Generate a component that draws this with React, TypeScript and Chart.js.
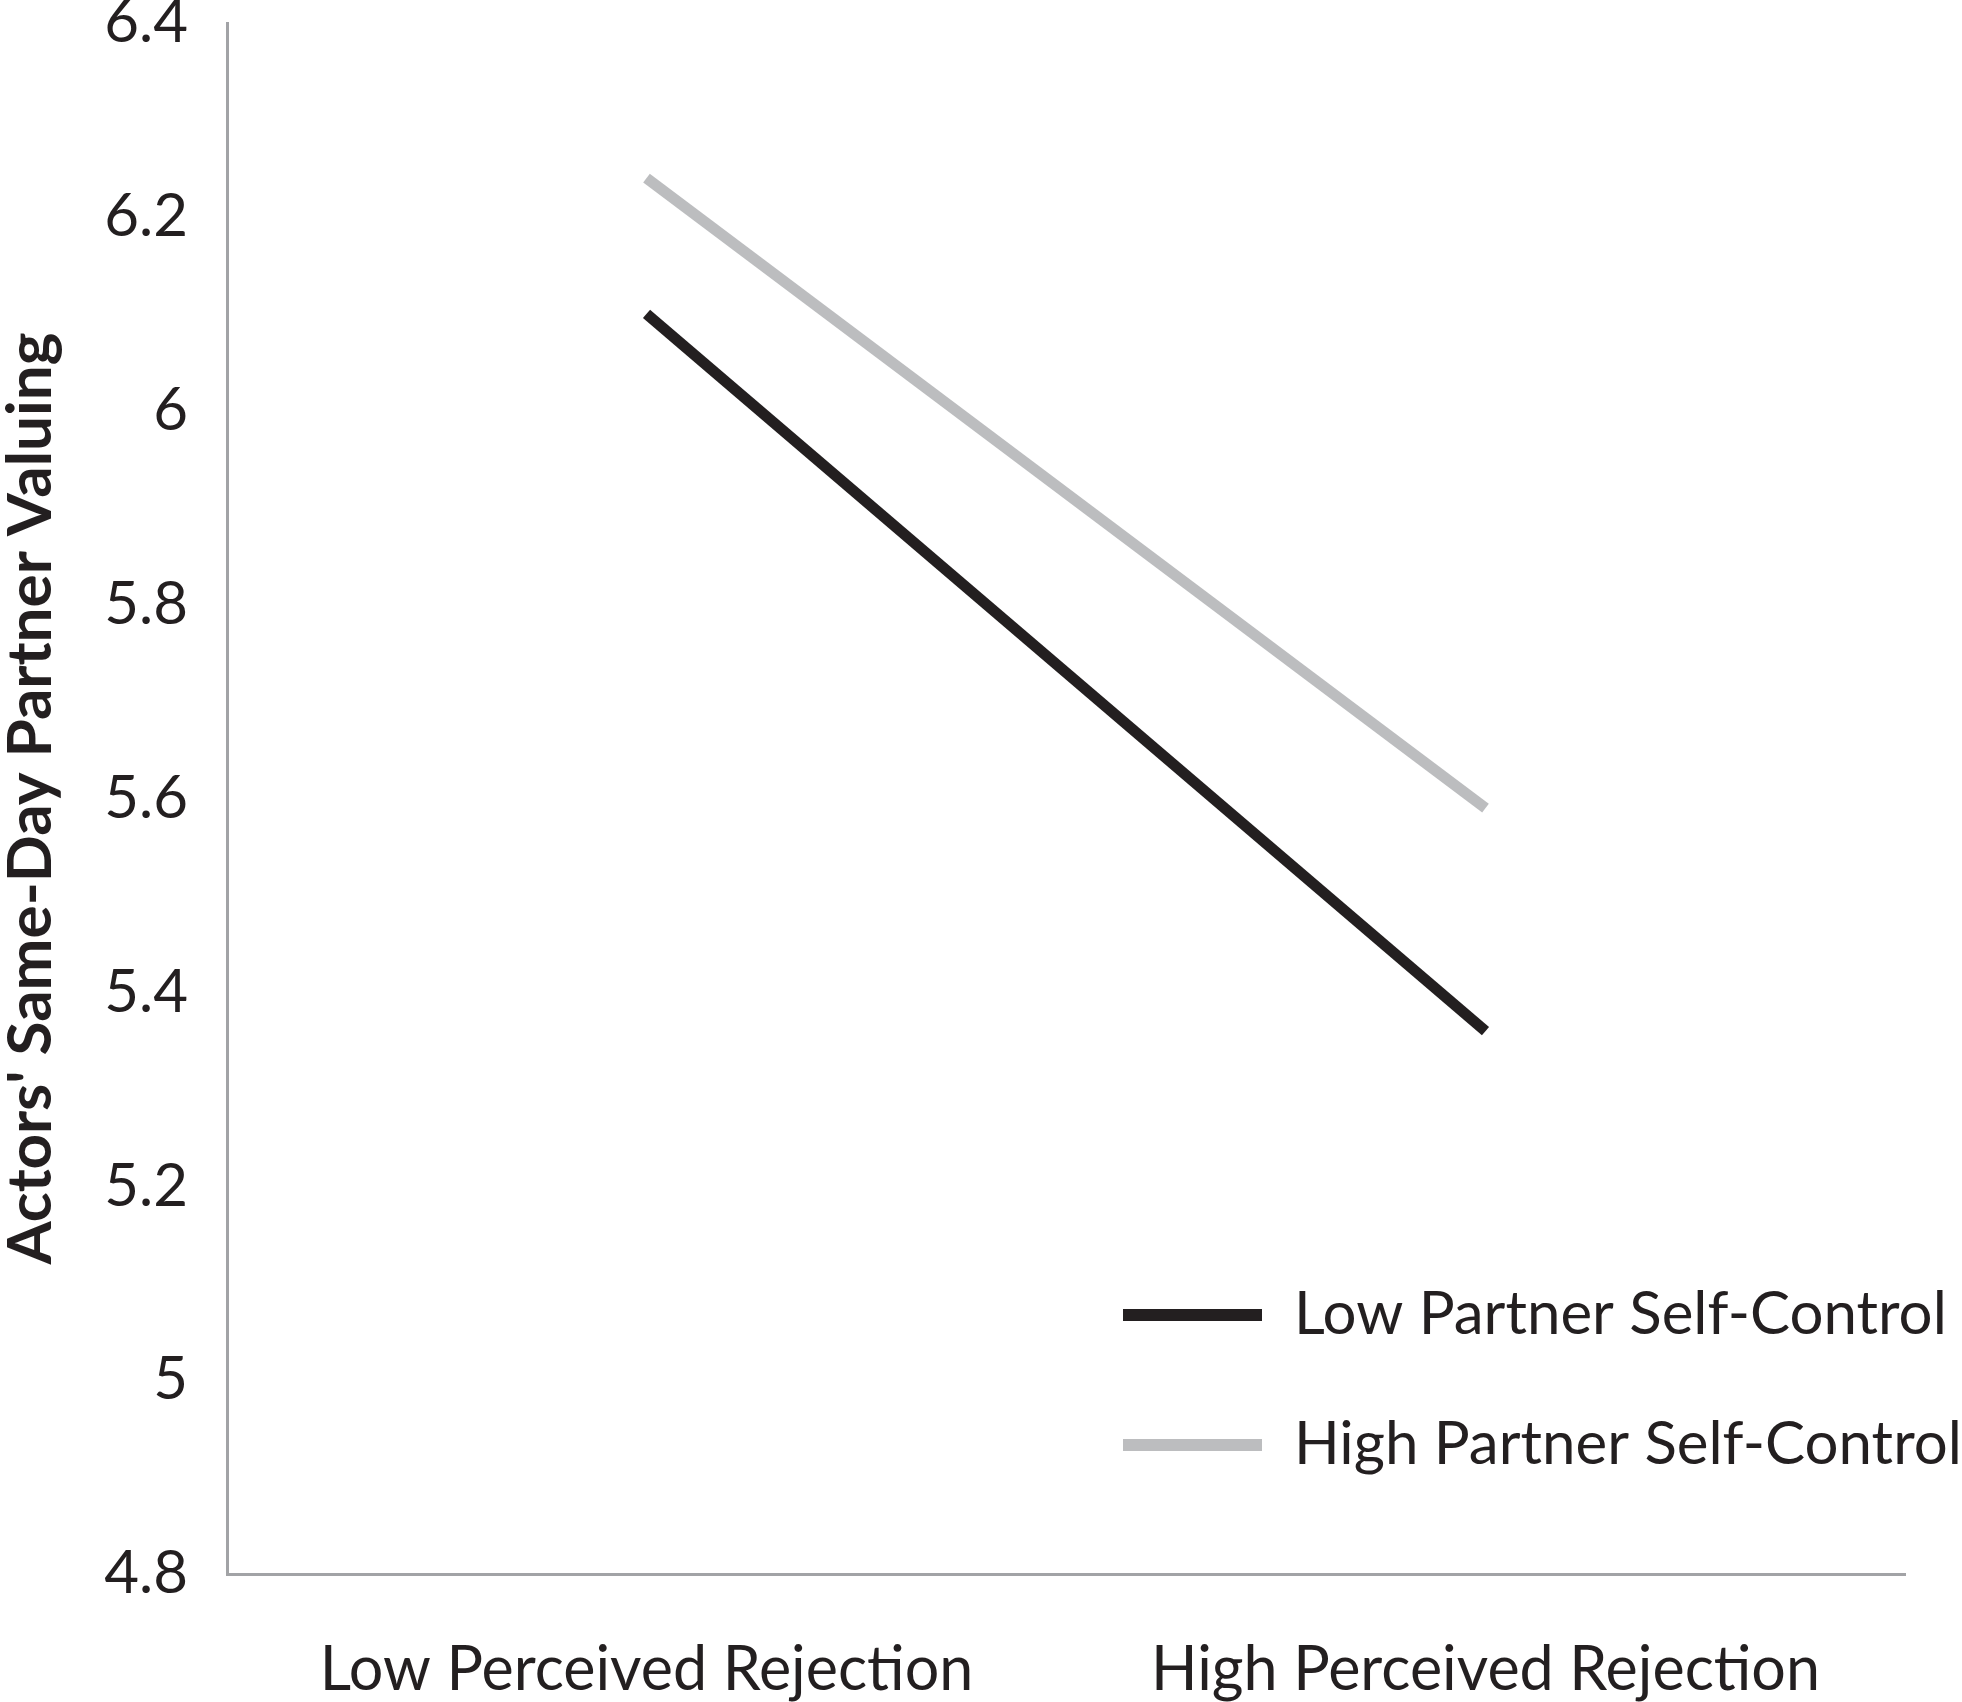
import { useEffect, useRef } from 'react';
import { Chart, registerables } from 'chart.js';

Chart.register(...registerables);

const categories = ['Low Perceived Rejection', 'High Perceived Rejection'];
const seriesNames = ['Low Partner Self-Control', 'High Partner Self-Control'];
const lowSelfControl = [6.1, 5.36];
const highSelfControl = [6.24, 5.59];
const yMin = 4.8;
const yMax = 6.4;
const yStep = 0.2;

const ink = '#231f20';
const axisGrey = '#a2a3a6';
const lineGrey = '#bcbdbf';
const family = 'Lato, "Open Sans", sans-serif';

// legend sits inside the plot, lower right, like the original figure
const insideLegend = {
  id: 'insideLegend',
  afterDraw(chart: Chart) {
    const { ctx, chartArea } = chart;
    const x0 = chartArea.right - 782;
    const rows = [chartArea.bottom - 259, chartArea.bottom - 129];
    ctx.save();
    chart.data.datasets.forEach((ds: any, i: number) => {
      const y = rows[i];
      ctx.strokeStyle = ds.borderColor;
      ctx.lineWidth = 12;
      ctx.lineCap = 'butt';
      ctx.beginPath();
      ctx.moveTo(x0, y);
      ctx.lineTo(x0 + 139, y);
      ctx.stroke();
      ctx.fillStyle = ink;
      ctx.font = `60px ${family}`;
      ctx.textBaseline = 'middle';
      ctx.textAlign = 'left';
      ctx.fillText(ds.label, x0 + 171, y);
    });
    ctx.restore();
  },
};

export default function App() {
  const canvasRef = useRef<HTMLCanvasElement>(null);
  const chartRef = useRef<Chart | null>(null);

  useEffect(() => {
    if (!canvasRef.current) return;
    if (chartRef.current) chartRef.current.destroy();

    chartRef.current = new Chart(canvasRef.current, {
      type: 'line',
      data: {
        labels: categories,
        datasets: [
          {
            label: seriesNames[0],
            data: lowSelfControl,
            borderColor: ink,
            backgroundColor: ink,
            borderWidth: 11,
            borderCapStyle: 'butt',
            pointRadius: 0,
            pointHoverRadius: 0,
          },
          {
            label: seriesNames[1],
            data: highSelfControl,
            borderColor: lineGrey,
            backgroundColor: lineGrey,
            borderWidth: 11,
            borderCapStyle: 'butt',
            pointRadius: 0,
            pointHoverRadius: 0,
          },
        ],
      },
      options: {
        animation: false,
        responsive: true,
        maintainAspectRatio: false,
        devicePixelRatio: 1,
        layout: { padding: { top: 23, right: 57, left: 0, bottom: 0 } },
        plugins: {
          legend: { display: false },
          tooltip: { enabled: false },
        },
        scales: {
          x: {
            offset: true,
            grid: { display: false, drawTicks: false },
            border: { display: true, color: axisGrey, width: 3 },
            ticks: {
              color: ink,
              padding: 60,
              font: { family, size: 61 },
            },
            afterFit: (scale: any) => {
              scale.height = 128;
              scale.paddingLeft = 0;
              scale.paddingRight = 0;
            },
          },
          y: {
            min: yMin,
            max: yMax,
            grid: { display: false, drawTicks: false },
            border: { display: true, color: axisGrey, width: 3 },
            ticks: {
              stepSize: yStep,
              color: ink,
              padding: 39,
              font: { family, size: 60 },
              callback: (v: any) => String(parseFloat(Number(v).toFixed(1))),
            },
            title: {
              display: true,
              text: "Actors' Same-Day Partner Valuing",
              color: ink,
              padding: 0,
              font: { family, size: 62, weight: 'bold', lineHeight: 1 },
            },
            afterFit: (scale: any) => {
              scale.width = 227;
              scale.paddingTop = 0;
              scale.paddingBottom = 0;
            },
          },
        },
      },
      plugins: [insideLegend],
    });

    return () => {
      if (chartRef.current) {
        chartRef.current.destroy();
        chartRef.current = null;
      }
    };
  }, []);

  return (
    <div style={{ position: 'absolute', left: 0, top: 0, width: 1962, height: 1702, background: '#fff' }}>
      <canvas ref={canvasRef} />
    </div>
  );
}
